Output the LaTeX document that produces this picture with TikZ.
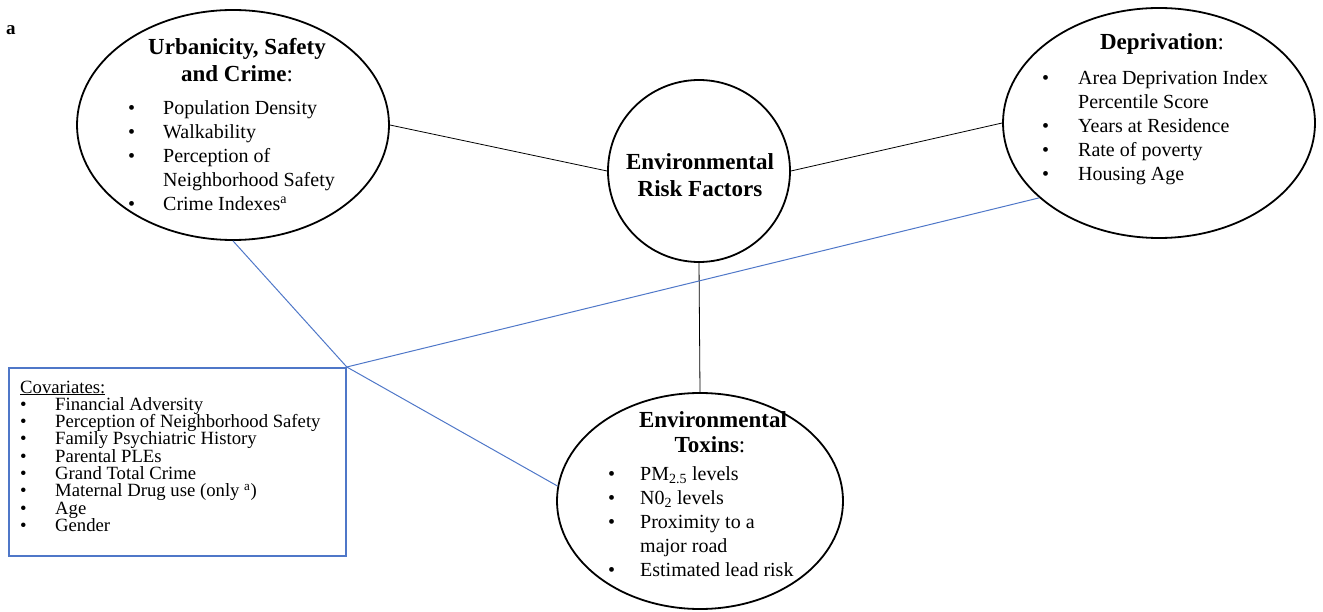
\documentclass[tikz,border=0pt]{standalone}
\usepackage{fontspec}
\setmainfont{Liberation Serif}
\usetikzlibrary{shapes.geometric}
\definecolor{linkblue}{RGB}{79,119,200}
\newcommand\mybul[1]{\makebox[#1][l]{\textbullet}}
\newcommand\myind[1]{\hspace*{#1}}
\begin{document}
\begin{tikzpicture}[x=1pt,y=-1pt,
  blob/.style={draw=black, line width=1.8pt, ellipse, inner sep=0pt},
  ttl/.style={font=\fontsize{23}{27}\selectfont\bfseries, anchor=base, inner sep=0pt},
  body/.style={font=\fontsize{20}{24}\selectfont, anchor=base west, inner sep=0pt},
  covtext/.style={font=\fontsize{18.7}{17.3}\selectfont, anchor=base west, inner sep=0pt},
  blink/.style={draw=black, line width=0.8pt},
  bluelink/.style={draw=linkblue, line width=1pt}]
\useasboundingbox (0,0) rectangle (1323,612);

% panel label
\node[font=\fontsize{19}{22}\selectfont\bfseries, anchor=base west, inner sep=0pt] (lbl) at (6,35) {a};

% shapes
\node[blob, minimum width=312pt, minimum height=230pt] (urb) at (233,125) {};
\node[blob, minimum width=312pt, minimum height=230pt] (dep) at (1159,123) {};
\node[draw=black, line width=1.8pt, circle, inner sep=0pt, minimum size=182pt] (erf) at (699,171) {};
\node[blob, minimum width=286pt, minimum height=216pt] (tox) at (700,501) {};
\node[draw=linkblue, line width=1.8pt, inner sep=0pt, minimum width=337pt, minimum height=188pt, anchor=north west] (cov) at (8,367) {};

% connectors
\draw[blink] (urb.east) -- (erf.west);
\draw[blink] (erf.east) -- (dep.west);
\draw[blink] (erf.south) -- (tox.north);
\draw[bluelink] (urb.south) -- (cov.north east);
\draw[bluelink] (cov.north east) -- (tox.174);
\draw[bluelink] (cov.north east) -- (dep.212);

% urbanicity text
\node[ttl] (urbT1) at (237,55) {Urbanicity, Safety};
\node[ttl] (urbT2) at (237,82) {and Crime\mdseries:};
\node[body] (urbB) at (128,115) {\parbox[t]{260pt}{\raggedright
  \mybul{35pt}Population Density\\
  \mybul{35pt}Walkability\\
  \mybul{35pt}Perception of\\
  \myind{35pt}Neighborhood Safety\\
  \mybul{35pt}Crime Indexes\textsuperscript{a}}};

% deprivation text
\node[ttl] (depT) at (1162,50) {Deprivation\mdseries:};
\node[body] (depB) at (1042,85) {\parbox[t]{260pt}{\raggedright
  \mybul{36pt}Area Deprivation Index\\
  \myind{36pt}Percentile Score\\
  \mybul{36pt}Years at Residence\\
  \mybul{36pt}Rate of poverty\\
  \mybul{36pt}Housing Age}};

% central
\node[ttl] (erfT1) at (700,170) {Environmental};
\node[ttl] (erfT2) at (700,197) {Risk Factors};

% toxins text
\node[ttl] (toxT1) at (713,427) {Environmental};
\node[ttl] (toxT2) at (710,452) {Toxins\mdseries:};
\node[body] (toxB) at (608,480) {\parbox[t]{260pt}{\raggedright
  \mybul{32pt}PM\textsubscript{2.5} levels\\
  \mybul{32pt}N0\textsubscript{2} levels\\
  \mybul{32pt}Proximity to a\\
  \myind{32pt}major road\\
  \mybul{32pt}Estimated lead risk}};

% covariates text
\node[covtext] (covT) at (20,393) {\parbox[t]{330pt}{\raggedright
  \underline{Covariates:}\\
  \mybul{35pt}Financial Adversity\\
  \mybul{35pt}Perception of Neighborhood Safety\\
  \mybul{35pt}Family Psychiatric History\\
  \mybul{35pt}Parental PLEs\\
  \mybul{35pt}Grand Total Crime\\
  \mybul{35pt}Maternal Drug use (only \textsuperscript{a})\\
  \mybul{35pt}Age\\
  \mybul{35pt}Gender}};
\end{tikzpicture}
\end{document}
